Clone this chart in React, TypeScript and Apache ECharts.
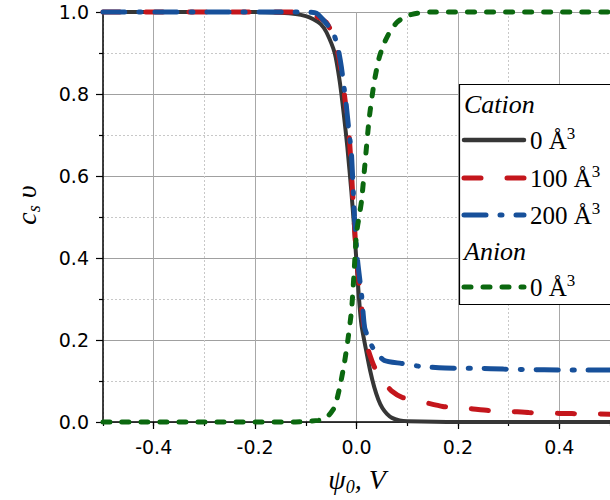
import React, { useEffect, useRef } from 'react';
import * as echarts from 'echarts';

// Cation, 0 Å³ (solid black)
const cation0X = [-0.5, -0.3, -0.2, -0.15, -0.12, -0.1, -0.086, -0.07, -0.059, -0.043, -0.033, -0.025, -0.018, -0.01, -0.005, 0, 0.005, 0.01, 0.019, 0.027, 0.035, 0.043, 0.051, 0.06, 0.07, 0.085, 0.1, 0.2, 0.5];
const cation0Y = [1, 1, 1, 0.998, 0.995, 0.99, 0.983, 0.97, 0.95, 0.9, 0.83, 0.75, 0.67, 0.56, 0.48, 0.39, 0.3, 0.235, 0.175, 0.125, 0.085, 0.055, 0.034, 0.02, 0.01, 0.004, 0.002, 0, 0];

// Cation, 100 Å³ (red dashed)
const cation100X = [-0.5, -0.12, -0.1, -0.08, -0.06, -0.045, -0.035, -0.024, -0.014, -0.005, 0, 0.01, 0.016, 0.022, 0.035, 0.055, 0.07, 0.09, 0.13, 0.17, 0.22, 0.26, 0.3, 0.34, 0.4, 0.45, 0.5];
const cation100Y = [1, 1, 0.998, 0.99, 0.975, 0.94, 0.89, 0.8, 0.69, 0.5, 0.4, 0.28, 0.22, 0.18, 0.135, 0.095, 0.075, 0.06, 0.049, 0.038, 0.033, 0.028, 0.026, 0.023, 0.021, 0.02, 0.019];

// Cation, 200 Å³ (blue dash-dot)
const cation200X = [-0.5, -0.1, -0.079, -0.065, -0.055, -0.046, -0.037, -0.03, -0.02, -0.015, -0.01, -0.004, 0.002, 0.01, 0.016, 0.025, 0.035, 0.055, 0.088, 0.13, 0.195, 0.24, 0.29, 0.34, 0.4, 0.45, 0.5];
const cation200Y = [1, 1, 0.997, 0.98, 0.965, 0.95, 0.915, 0.867, 0.77, 0.71, 0.655, 0.5, 0.395, 0.31, 0.23, 0.2, 0.175, 0.15, 0.143, 0.135, 0.131, 0.131, 0.129, 0.128, 0.127, 0.127, 0.127];

// Anion, 0 Å³ (green short dashes)
const anion0X = [-0.5, -0.12, -0.09, -0.075, -0.067, -0.055, -0.043, -0.033, -0.024, -0.017, -0.01, -0.006, 0, 0.005, 0.01, 0.016, 0.025, 0.035, 0.045, 0.055, 0.065, 0.08, 0.098, 0.12, 0.15, 0.5];
const anion0Y = [0, 0, 0.002, 0.004, 0.006, 0.016, 0.037, 0.085, 0.143, 0.2, 0.27, 0.34, 0.46, 0.5, 0.54, 0.62, 0.74, 0.83, 0.89, 0.925, 0.95, 0.975, 0.99, 0.997, 1, 1];

const xTickLabels = [-0.4, -0.2, 0, 0.2, 0.4];

const SERIF = '"Liberation Serif", "Times New Roman", serif';
const SANS = '"DejaVu Sans", sans-serif';

const zip = (xs: number[], ys: number[]) => xs.map((x, i) => [x, ys[i]]);

const C_BLACK = '#363636';
const C_RED = '#c4161c';
const C_BLUE = '#17509a';
const C_GREEN = '#0b680f';

const legendRich = {
  n: { fontSize: 25, fontFamily: SERIF, color: '#000', lineHeight: 30 },
  s: { fontSize: 17, fontFamily: SERIF, color: '#000', lineHeight: 20, verticalAlign: 'top' },
};

function legendEntry(y: number, color: string, dash: number[] | null, width: number, label: string) {
  return [
    {
      type: 'line',
      shape: { x1: 464, y1: y, x2: 524, y2: y },
      style: { stroke: color, lineWidth: width, lineDash: dash || undefined, lineCap: 'round' },
      z: 101,
    },
    {
      type: 'text',
      x: 530,
      y: y,
      style: {
        text: `{n|${label} Å}{s|3}`,
        rich: legendRich,
        verticalAlign: 'middle',
        align: 'left',
      },
      z: 101,
    },
  ];
}

export default function App() {
  const ref = useRef<HTMLDivElement>(null);
  useEffect(() => {
    document.body.style.margin = '0';
    const chart = echarts.init(ref.current!, null, { renderer: 'svg' });
    const option: any = {
      animation: false,
      backgroundColor: '#fff',
      grid: { left: 103, top: 12, width: 509, height: 410, containLabel: false },
      xAxis: [
        {
          type: 'value',
          min: -0.5,
          max: 0.5,
          interval: 0.1,
          axisLine: { show: true, onZero: false, lineStyle: { color: '#000', width: 1.5 } },
          axisTick: { show: true, inside: false, length: 4, lineStyle: { color: '#000', width: 1.2 } },
          axisLabel: { show: false },
          splitLine: { show: true, lineStyle: { color: '#c8c8c8', width: 1, type: [2, 2] } },
        },
        {
          type: 'value',
          position: 'bottom',
          min: -0.5,
          max: 0.5,
          axisLine: { show: false, onZero: false },
          axisTick: { show: true, inside: false, length: 7, customValues: xTickLabels, lineStyle: { color: '#000', width: 1.2 } },
          axisLabel: {
            show: true,
            customValues: xTickLabels,
            formatter: (v: number) => v.toFixed(1),
            fontFamily: SANS,
            fontSize: 19,
            color: '#000',
            margin: 15,
          },
          splitLine: { show: true, lineStyle: { color: '#a8a8a8', width: 1, type: 'solid' } },
        },
      ],
      yAxis: {
        type: 'value',
        min: 0,
        max: 1,
        interval: 0.2,
        axisLine: { show: true, onZero: false, lineStyle: { color: '#000', width: 1.5 } },
        axisTick: { show: true, inside: false, length: 7, lineStyle: { color: '#000', width: 1.2 } },
        minorTick: { show: true, splitNumber: 2, length: 4, lineStyle: { color: '#000', width: 1.2 } },
        axisLabel: {
          formatter: (v: number) => v.toFixed(1),
          fontFamily: SANS,
          fontSize: 19,
          color: '#000',
          margin: 14,
        },
        splitLine: { show: true, lineStyle: { color: '#a0a0a0', width: 1 } },
        minorSplitLine: { show: true, lineStyle: { color: '#c8c8c8', width: 1, type: [2, 2] } },
      },
      series: [
        {
          name: 'Cation 0',
          type: 'line',
          xAxisIndex: 0,
          data: zip(cation0X, cation0Y),
          showSymbol: false,
          symbol: 'none',
          smooth: 0.2,
          clip: false,
          lineStyle: { color: C_BLACK, width: 4 },
        },
        {
          name: 'Cation 100',
          type: 'line',
          xAxisIndex: 0,
          data: zip(cation100X, cation100Y),
          showSymbol: false,
          symbol: 'none',
          smooth: 0.2,
          clip: false,
          lineStyle: { color: C_RED, width: 5, type: [17, 26], cap: 'round' },
        },
        {
          name: 'Cation 200',
          type: 'line',
          xAxisIndex: 0,
          data: zip(cation200X, cation200Y),
          showSymbol: false,
          symbol: 'none',
          smooth: 0.2,
          clip: false,
          lineStyle: { color: C_BLUE, width: 5, type: [22, 14, 2, 14], cap: 'round' },
        },
        {
          name: 'Anion 0',
          type: 'line',
          xAxisIndex: 0,
          data: zip(anion0X, anion0Y),
          showSymbol: false,
          symbol: 'none',
          smooth: 0.2,
          clip: false,
          lineStyle: { color: C_GREEN, width: 5, type: [7, 12], cap: 'round' },
        },
      ],
      graphic: [
        {
          type: 'rect',
          shape: { x: 459.5, y: 84.5, width: 170, height: 220 },
          style: { fill: '#fff', stroke: '#000', lineWidth: 1.2 },
          z: 100,
        },
        {
          type: 'text',
          x: 464,
          y: 104,
          style: { text: 'Cation', font: `italic 26px ${SERIF}`, fill: '#000', verticalAlign: 'middle', align: 'left' },
          z: 101,
        },
        ...legendEntry(140, C_BLACK, null, 4.5, '0'),
        ...legendEntry(178, C_RED, [17, 26], 5, '100'),
        ...legendEntry(215, C_BLUE, [22, 14, 2, 14], 5, '200'),
        {
          type: 'text',
          x: 464,
          y: 251,
          style: { text: 'Anion', font: `italic 26px ${SERIF}`, fill: '#000', verticalAlign: 'middle', align: 'left' },
          z: 101,
        },
        ...legendEntry(287, C_GREEN, [7, 12], 5, '0'),
        {
          type: 'text',
          x: 357,
          y: 479,
          style: {
            text: '{i|ψ}{sub|0}{i|, V}',
            rich: {
              i: { fontSize: 28, fontFamily: SERIF, fontStyle: 'italic', color: '#000', lineHeight: 34 },
              sub: { fontSize: 18, fontFamily: SERIF, fontStyle: 'italic', color: '#000', lineHeight: 22, verticalAlign: 'bottom' },
            },
            align: 'center',
            verticalAlign: 'middle',
          },
          z: 101,
        },
        {
          type: 'text',
          x: 26,
          y: 205,
          rotation: Math.PI / 2,
          style: {
            text: '{i|c}{sub|s}{i| υ}',
            rich: {
              i: { fontSize: 28, fontFamily: SERIF, fontStyle: 'italic', color: '#000', lineHeight: 34 },
              sub: { fontSize: 18, fontFamily: SERIF, fontStyle: 'italic', color: '#000', lineHeight: 22, verticalAlign: 'bottom' },
            },
            align: 'center',
            verticalAlign: 'middle',
          },
          z: 101,
        },
      ],
    };
    chart.setOption(option);
    return () => chart.dispose();
  }, []);
  return <div ref={ref} style={{ width: 610, height: 500 }} />;
}
